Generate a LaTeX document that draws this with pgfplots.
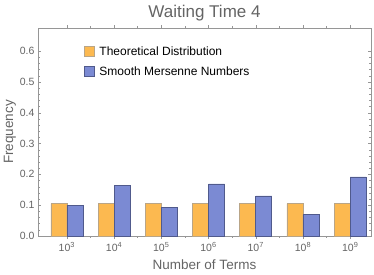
\documentclass[border=0pt]{standalone}
\usepackage{pgfplots}
\pgfplotsset{compat=1.18}
\usepackage{fontspec}
\setmainfont{Liberation Sans}
\definecolor{orf}{RGB}{252,185,80}
\definecolor{blf}{RGB}{123,138,211}
\definecolor{txt}{RGB}{100,100,100}
\definecolor{axc}{RGB}{150,150,150}
\begin{document}
\begin{tikzpicture}
\path[use as bounding box] (-38pt,-38pt) rectangle (336pt,236pt);
\begin{axis}[
  at={(0,0)}, anchor=south west,
  scale only axis, width=333pt, height=208pt,
  ybar=0pt, bar width=16pt,
  xmin=-0.61, xmax=6.44, ymin=0, ymax=0.675,
  xtick={0,1,2,3,4,5,6},
  xticklabels={10\textsuperscript{3},10\textsuperscript{4},10\textsuperscript{5},10\textsuperscript{6},10\textsuperscript{7},10\textsuperscript{8},10\textsuperscript{9}},
  minor xtick={0.5,1.5,2.5,3.5,4.5,5.5},
  ytick={0,0.1,0.2,0.3,0.4,0.5,0.6},
  yticklabels={0.0,0.1,0.2,0.3,0.4,0.5,0.6},
  minor y tick num=4,
  major tick length=3pt, minor tick length=1.8pt,
  tick style={axc, line width=0.4pt},
  axis line style={axc, line width=0.6pt},
  tick label style={font=\fontsize{10.5}{11}\selectfont, text=txt},
  /pgf/number format/assume math mode=true,
  xlabel={Number of Terms}, ylabel={Frequency},
  label style={font=\fontsize{13.5}{14}\selectfont, text=txt},
  xlabel style={yshift=-1pt},
  ylabel style={yshift=-3pt},
  title={Waiting Time 4},
  title style={font=\fontsize{17}{18}\selectfont, text=txt, yshift=-3pt},
  legend style={at={(rel axis cs:0.128,0.93)}, anchor=north west, draw=none, fill=none,
    font=\fontsize{12}{13}\selectfont, row sep=6pt,
    /tikz/every odd column/.append style={column sep=3pt}},
  legend cell align=left,
  legend image code/.code={\draw[#1] (0pt,-4.5pt) rectangle (10pt,5.5pt);},
]
\addplot[fill=orf, draw={rgb,255:red,185;green,165;blue,135}, line width=0.6pt] coordinates {
 (0,0.105) (1,0.105) (2,0.105) (3,0.105) (4,0.105) (5,0.105) (6,0.105)};
\addplot[fill=blf, draw={rgb,255:red,80;green,90;blue,140}, line width=0.6pt] coordinates {
 (0,0.100) (1,0.163) (2,0.094) (3,0.169) (4,0.130) (5,0.069) (6,0.192)};
\legend{Theoretical Distribution, Smooth Mersenne Numbers}
\end{axis}
\end{tikzpicture}
\end{document}
